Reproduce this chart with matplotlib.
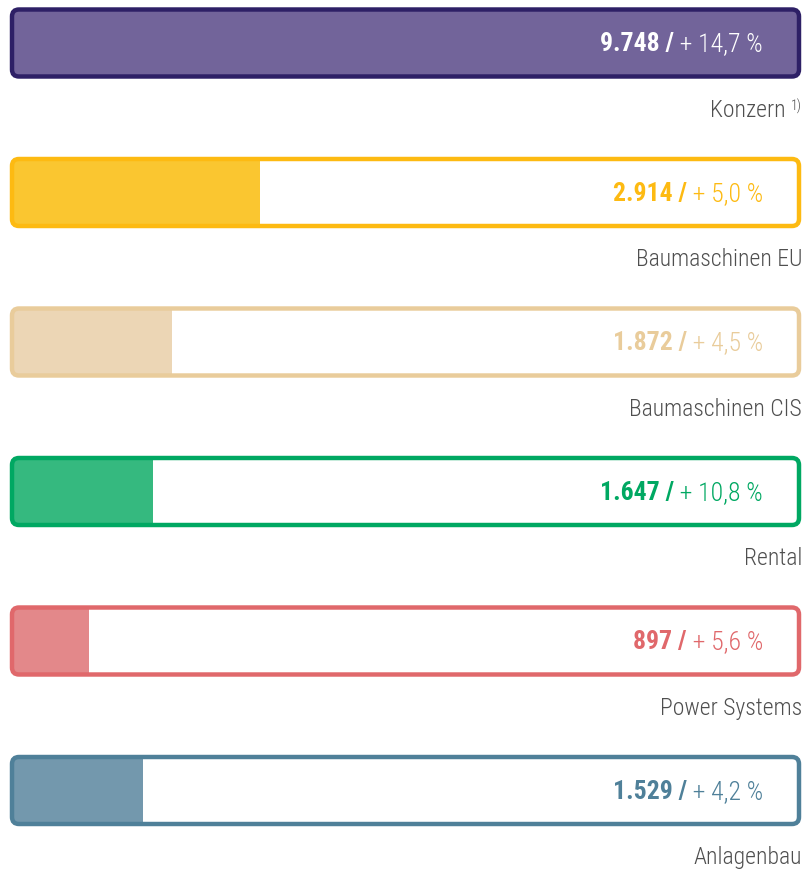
import matplotlib
matplotlib.use("Agg")
import matplotlib.pyplot as plt
from matplotlib.patches import FancyBboxPatch
from matplotlib import font_manager

# Data
segments = ["Konzern", "Baumaschinen EU", "Baumaschinen CIS", "Rental", "Power Systems", "Anlagenbau"]
notes = ["1)", "", "", "", "", ""]
values = [9748, 2914, 1872, 1647, 897, 1529]
value_labels = ["9.748", "2.914", "1.872", "1.647", "897", "1.529"]
growth_labels = ["+ 14,7 %", "+ 5,0 %", "+ 4,5 %", "+ 10,8 %", "+ 5,6 %", "+ 4,2 %"]

# Styles
edge_colors = ["#2E2066", "#FDBA12", "#E9CC9B", "#00A862", "#E0686B", "#4F8099"]
fill_colors = ["#72649A", "#FAC630", "#ECD6B5", "#35B97F", "#E3888A", "#7398AD"]
text_colors = ["#FFFFFF", "#FDBA12", "#E9CC9B", "#00A862", "#E0686B", "#4F8099"]
label_color = "#4F4F4F"

# pick a condensed face if one is installed
fonts = font_manager.fontManager.ttflist
names = {f.name for f in fonts}
stretch = "normal"
cond = [f for f in fonts if f.stretch not in ("normal", 500) and f.name in ("DejaVu Sans", "Roboto", "Open Sans", "Noto Sans")]
if "Roboto Condensed" in names:
    family = ["Roboto Condensed", "DejaVu Sans"]
elif "Liberation Sans Narrow" in names:
    family = ["Liberation Sans Narrow", "DejaVu Sans"]
elif cond:
    family = [cond[0].name, "DejaVu Sans"]
    stretch = "condensed"
else:
    family = ["Roboto", "DejaVu Sans"]
plt.rcParams["font.family"] = family
plt.rcParams["font.stretch"] = stretch

W, H = 811, 873
fig = plt.figure(figsize=(W / 100, H / 100), dpi=100)
ax = fig.add_axes([0, 0, 1, 1])
ax.axis("off")

# x: value units, pixel 13 == 0; y: row units, row spacing 149.5 px
k = 247 / 2914  # px per unit
ax.set_xlim(-13 / k, (W - 13) / k)
row_px = 149.5
top_px = 43
ax.set_ylim((H - top_px) / row_px, -top_px / row_px)

box_left = -1 / k
box_right = 786 / k
box_h = 67 / row_px
rad_px = 7
text_x = 750 / k
label_x = 789 / k

for i, seg in enumerate(segments):
    box = FancyBboxPatch((box_left, i - box_h / 2), box_right - box_left, box_h,
                         boxstyle=f"round,pad=0,rounding_size={rad_px / k}",
                         mutation_aspect=(rad_px / row_px) / (rad_px / k),
                         fc="none", ec=edge_colors[i], lw=3.2, zorder=3)
    ax.add_patch(box)
    bars = ax.barh(i, values[i], left=0, height=box_h, color=fill_colors[i], zorder=2)
    for b in bars:
        b.set_clip_path(box)

    g = ax.text(text_x, i + 0.01, " " + growth_labels[i], ha="right", va="center",
                fontsize=18.5, fontweight="light", color=text_colors[i], zorder=4)
    ax.annotate(value_labels[i] + " /", xy=(0, 0), xycoords=g, ha="right", va="bottom",
                fontsize=18.5, fontweight="bold", color=text_colors[i], zorder=4)

    if notes[i]:
        n = ax.text(label_x, i + 63 / row_px, notes[i], ha="right", va="center",
                    fontsize=10, fontweight="light", color=label_color)
        ax.annotate(seg, xy=(0, i + 0.45), xycoords=(n, "data"), xytext=(-4, 0),
                    textcoords="offset points", ha="right", va="center",
                    fontsize=17, fontweight="light", color=label_color)
    else:
        ax.text(label_x, i + 0.45, seg, ha="right", va="center", fontsize=17,
                fontweight="light", color=label_color)

fig.savefig("out.png", dpi=100, facecolor="white")
